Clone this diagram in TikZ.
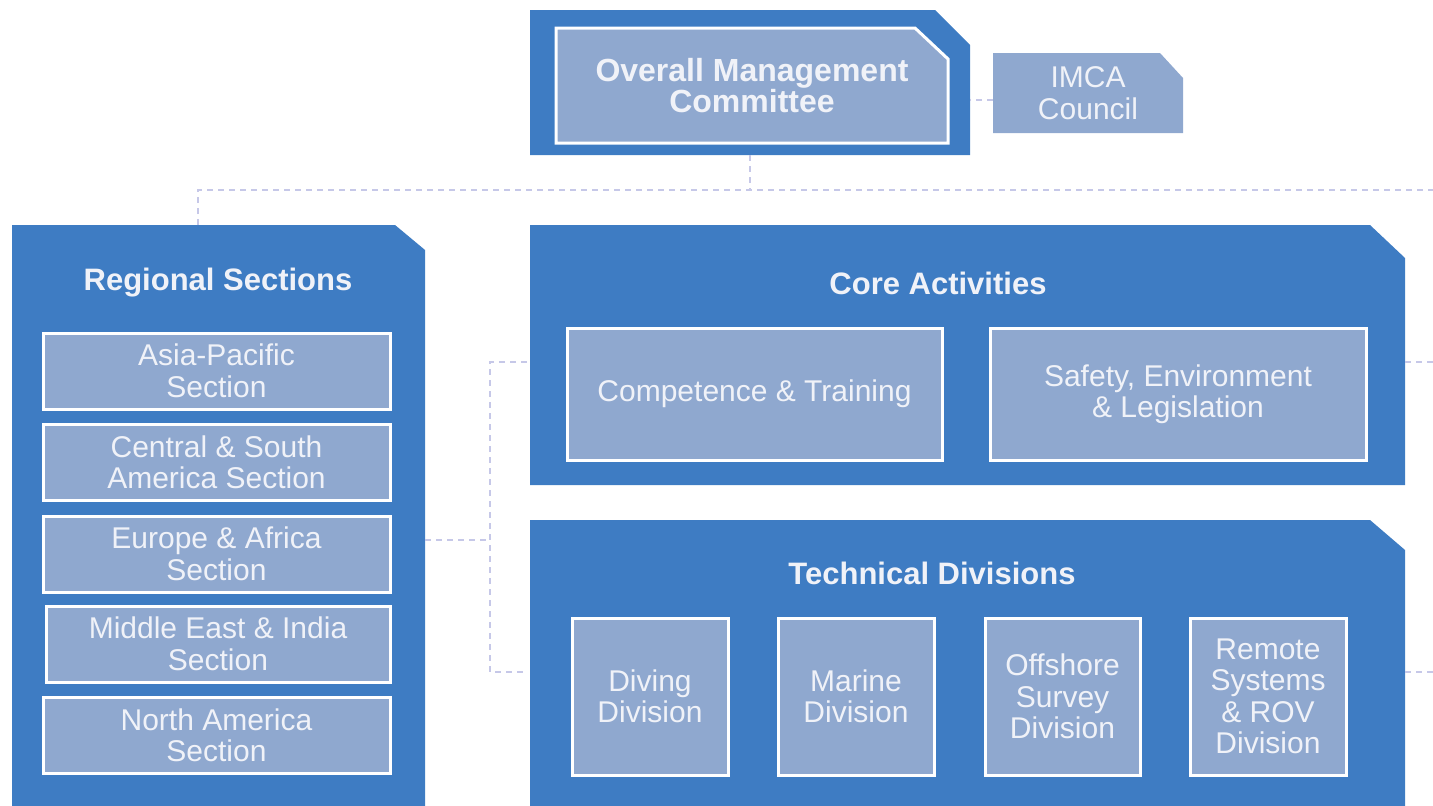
\documentclass[tikz,border=0pt]{standalone}
\usepackage{fontspec}
\setmainfont{Liberation Sans}
\usepackage{xcolor}
\usepackage{tikz}
\usetikzlibrary{backgrounds,positioning}

\definecolor{deepblue}{RGB}{62,124,195}
\definecolor{paleblue}{RGB}{143,168,207}
\definecolor{linklav}{RGB}{198,200,232}
\definecolor{softwhite}{RGB}{240,242,248}

\tikzset{
  panel/.style={rectangle, draw=none, fill=none, inner sep=0pt, outer sep=0pt},
  unitbox/.style={rectangle, fill=paleblue, draw=white, line width=3pt, inner sep=0pt, outer sep=0pt, text=softwhite, align=center, font=\fontsize{30}{31.5}\selectfont},
  heading/.style={text=softwhite, font=\fontsize{31}{33}\selectfont\bfseries},
  link/.style={draw=linklav, line width=2pt, dash pattern=on 6pt off 5pt},
}

% fill a named node with its north east corner cut off
\newcommand{\cutpanel}[4]{%
  \begin{pgfonlayer}{background}
    \path[#4] (#1.south west) |- ([xshift=-#2]#1.north east) -- ([yshift=-#3]#1.north east) -- (#1.south east) -- cycle;
  \end{pgfonlayer}}

\begin{document}
\begin{tikzpicture}[x=1pt,y=-1pt]
\useasboundingbox (0,0) rectangle (1433,806);

%Panel: Overall Management Committee
\node[panel, minimum width=440pt, minimum height=145pt] (omc) at (750,82.5) {};
\cutpanel{omc}{35pt}{35pt}{fill=deepblue}
\node[unitbox, draw=none, fill=none, minimum width=392pt, minimum height=115pt, font=\fontsize{32}{31}\selectfont\bfseries] (omc-label) at (752,85.5) {Overall Management\\Committee};
\cutpanel{omc-label}{33pt}{31pt}{fill=paleblue, draw=white, line width=3pt}
%Box: IMCA Council
\node[unitbox, draw=none, fill=none, minimum width=190pt, minimum height=80pt] (imca) at (1088,93) {IMCA\\Council};
\cutpanel{imca}{23pt}{25pt}{fill=paleblue}

%Panel: Regional Sections
\node[panel, minimum width=413pt, minimum height=581pt] (regional) at (218.5,515.5) {};
\cutpanel{regional}{30pt}{25pt}{fill=deepblue}
\node[heading] (regional-title) at (218,283) {Regional Sections};
\node[unitbox, minimum width=347pt, minimum height=76pt] (asia) at (216.5,371) {Asia-Pacific\\Section};
\node[unitbox, minimum width=347pt, minimum height=76pt] (csa) at (216.5,462.5) {Central \& South\\America Section};
\node[unitbox, minimum width=347pt, minimum height=76pt] (eaf) at (216.5,554) {Europe \& Africa\\Section};
\node[unitbox, minimum width=344pt, minimum height=76pt] (mei) at (218,644) {Middle East \& India\\Section};
\node[unitbox, minimum width=347pt, minimum height=76pt] (nam) at (216.5,735.5) {North America\\Section};

%Panel: Core Activities
\node[panel, minimum width=875pt, minimum height=260pt] (core) at (967.5,355) {};
\cutpanel{core}{35pt}{33pt}{fill=deepblue}
\node[heading] (core-title) at (938,283) {Core Activities};
\node[unitbox, minimum width=375pt, minimum height=132pt] (competence) at (754.5,394) {Competence \& Training};
\node[unitbox, minimum width=376pt, minimum height=132pt] (safety) at (1178,394) {Safety, Environment\\\& Legislation};

%Panel: Technical Divisions
\node[panel, minimum width=875pt, minimum height=286pt] (tech) at (967.5,663) {};
\cutpanel{tech}{35pt}{30pt}{fill=deepblue}
\node[heading] (tech-title) at (932,573) {Technical Divisions};
\node[unitbox, minimum width=156pt, minimum height=157pt] (diving) at (650,696.5) {Diving\\Division};
\node[unitbox, minimum width=156pt, minimum height=157pt] (marine) at (856,696.5) {Marine\\Division};
\node[unitbox, minimum width=155pt, minimum height=157pt] (survey) at (1062.5,696.5) {Offshore\\Survey\\Division};
\node[unitbox, minimum width=156pt, minimum height=157pt] (rov) at (1268,696.5) {Remote\\Systems\\\& ROV\\Division};

% Connectors
\coordinate (bus) at (198,190);
\coordinate (bus-end) at (1433,190);
\draw[link] (omc.south) -- (omc.south |- bus);
\draw[link] (regional.north -| bus) -- (bus) -- (bus-end);
\draw[link] ([yshift=-7pt]imca.west) -- ([yshift=-7pt]imca.west -| omc.east);

\coordinate (spine) at (490,540);
\coordinate (core-tap) at (527,362);
\coordinate (tech-tap) at (527,672);
\draw[link] (regional.east |- spine) -- (spine);
\draw[link] (core-tap) -- (core-tap -| spine) -- (tech-tap -| spine) -- (tech-tap);

\coordinate (core-out) at (1433,362);
\coordinate (tech-out) at (1433,672);
\draw[link] (core.east |- core-out) -- (core-out);
\draw[link] (tech.east |- tech-out) -- (tech-out);
\end{tikzpicture}
\end{document}
